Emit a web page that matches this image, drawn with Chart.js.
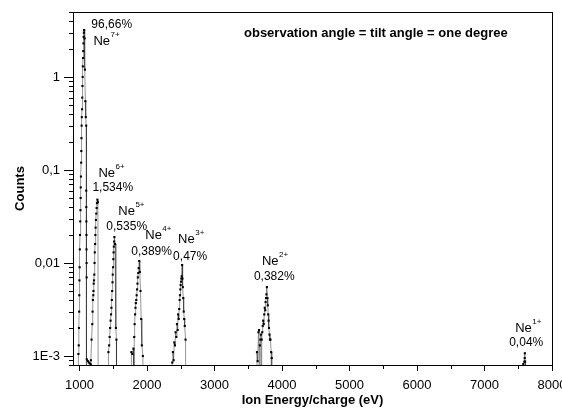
<!DOCTYPE html>
<html>
<head>
<meta charset="utf-8">
<script src="https://cdn.jsdelivr.net/npm/chart.js@4"></script>
<style>
  html, body { margin: 0; padding: 0; background: #fff; }
  canvas { display: block; }
</style>
</head>
<body>
<canvas id="chart" width="562" height="409"></canvas>
<script>
// energies (eV) and counts, one pair per charge state
// 1e-5 stands for "zero" (falls below the axis and is clipped)
const ne7Energy = [975, 985, 990, 993, 996, 998, 1000, 1003, 1006, 1009, 1012, 1015, 1018, 1020, 1023, 1026, 1028, 1030, 1033, 1036, 1039, 1042, 1045, 1048, 1051, 1054, 1057, 1060, 1063, 1066, 1070, 1076, 1082, 1088, 1094, 1100, 1101, 1102, 1103, 1104, 1105, 1106, 1107, 1108, 1110, 1125, 1140, 1155, 1170, 1185];
const ne7Counts = [1e-5, 0.00105, 0.0013, 0.002, 0.003, 0.0045, 0.0065, 0.009, 0.014, 0.02, 0.028, 0.037, 0.05, 0.065, 0.085, 0.12, 0.16, 0.22, 0.3, 0.37, 0.45, 0.6, 0.8, 1.0, 1.3, 1.6, 1.9, 2.3, 2.7, 3.0, 3.2, 2.6, 1.2, 0.55, 0.37, 0.3, 0.06, 0.04, 0.028, 0.02, 0.014, 0.01, 0.007, 1e-5, 0.00092, 0.00088, 0.00085, 0.00083, 0.00081, 1e-5];

const ne6Energy = [1160, 1170, 1180, 1190, 1195, 1200, 1205, 1208, 1212, 1216, 1220, 1224, 1228, 1232, 1236, 1240, 1245, 1250, 1255, 1260, 1266, 1274, 1280];
const ne6Counts = [1e-5, 0.0009, 0.0015, 0.0022, 0.003, 0.004, 0.0045, 0.005, 0.006, 0.0065, 0.0075, 0.01, 0.013, 0.016, 0.02, 0.024, 0.029, 0.034, 0.039, 0.044, 0.048, 0.045, 1e-5];

const ne5Energy = [1425, 1430, 1440, 1448, 1455, 1462, 1468, 1474, 1480, 1485, 1490, 1494, 1498, 1502, 1506, 1510, 1514, 1518, 1528, 1540, 1548, 1550];
const ne5Counts = [1e-5, 0.0011, 0.0013, 0.0016, 0.002, 0.0024, 0.0028, 0.0033, 0.004, 0.005, 0.0062, 0.0075, 0.009, 0.011, 0.013, 0.015, 0.017, 0.019, 0.016, 0.002, 0.0015, 1e-5];

const ne4Energy = [1765, 1770, 1785, 1800, 1806, 1812, 1818, 1824, 1830, 1836, 1842, 1848, 1854, 1860, 1866, 1872, 1878, 1886, 1895, 1905, 1915, 1925, 1940, 1945];
const ne4Counts = [1e-5, 0.0011, 0.00105, 0.0012, 1e-5, 0.0016, 0.0022, 0.0028, 0.0033, 0.0037, 0.004, 0.0045, 0.0052, 0.006, 0.007, 0.0078, 0.0088, 0.0105, 0.008, 0.005, 0.0025, 0.0013, 0.001, 1e-5];

const ne3Energy = [2370, 2375, 2385, 2395, 2405, 2415, 2425, 2435, 2445, 2455, 2462, 2470, 2478, 2485, 2490, 2495, 2500, 2505, 2510, 2515, 2521, 2526, 2532, 2538, 2545, 2552, 2560, 2572, 2580];
const ne3Counts = [1e-5, 0.00085, 0.0011, 0.0009, 0.0014, 0.0013, 0.0018, 0.0016, 0.0022, 0.0019, 0.0028, 0.0025, 0.0032, 0.004, 0.0045, 0.0052, 0.0058, 0.0063, 0.0068, 0.0072, 0.0095, 0.0068, 0.0055, 0.0042, 0.003, 0.0025, 0.0021, 0.0015, 1e-5];

const ne2Energy = [3625, 3630, 3640, 3652, 3660, 3665, 3672, 3680, 3688, 3695, 3700, 3708, 3715, 3722, 3730, 3738, 3745, 3752, 3758, 3765, 3770, 3777, 3785, 3790, 3796, 3802, 3808, 3815, 3822, 3830, 3840, 3848, 3852];
const ne2Counts = [1e-5, 0.0011, 0.00088, 0.0018, 0.0019, 1e-5, 0.0013, 0.0015, 0.0017, 1e-5, 0.0015, 0.0018, 0.0021, 0.0024, 0.0022, 0.0028, 0.0033, 0.0031, 0.0038, 0.0042, 0.0046, 0.0055, 0.0042, 0.0035, 0.0028, 0.0024, 0.002, 0.0017, 0.0015, 0.0015, 0.0011, 0.00095, 1e-5];

const ne1Energy = [7560, 7575, 7590, 7595, 7598, 7602, 7608];
const ne1Counts = [1e-5, 0.00082, 0.00087, 0.00095, 0.00107, 0.00087, 1e-5];

// peak labels: ion, charge, share, anchor (eV, counts) of ion name and of percentage
const ionNames = ["Ne", "Ne", "Ne", "Ne", "Ne", "Ne", "Ne"];
const ionCharges = ["7+", "6+", "5+", "4+", "3+", "2+", "1+"];
const ionShares = ["96,66%", "1,534%", "0,535%", "0,389%", "0,47%", "0,382%", "0,04%"];
const nameAt = [[1207, 2.21], [1281, 0.084], [1576, 0.0328], [1975, 0.0181], [2462, 0.0164], [3703, 0.0095], [7455, 0.00181]];
const shareAt = [[1177, 3.36], [1192, 0.0594], [1399, 0.0226], [1768, 0.0122], [2388, 0.0108], [3585, 0.00656], [7366, 0.00128]];

const xTicks = [1000, 1500, 2000, 2500, 3000, 3500, 4000, 4500, 5000, 5500, 6000, 6500, 7000, 7500, 8000];
const yMajor = [0.001, 0.01, 0.1, 1];
const yTickText = { 0.001: "1E-3", 0.01: "0,01", 0.1: "0,1", 1: "1" };

const noteText = "observation angle = tilt angle = one degree";

const FONT = "'Liberation Sans', Arial, sans-serif";

function toPoints(xs, ys) {
  return xs.map((x, i) => ({ x: x, y: ys[i] }));
}

const series = [
  [ne7Energy, ne7Counts],
  [ne6Energy, ne6Counts],
  [ne5Energy, ne5Counts],
  [ne4Energy, ne4Counts],
  [ne3Energy, ne3Counts],
  [ne2Energy, ne2Counts],
  [ne1Energy, ne1Counts],
];

const datasets = series.map((s) => ({
  data: toPoints(s[0], s[1]),
  borderColor: "rgba(0,0,0,0.6)",
  borderWidth: 0.7,
  pointStyle: "rect",
  pointRadius: 1.5,
  pointBackgroundColor: "#000",
  pointBorderWidth: 0,
  tension: 0,
}));

// frame, tick marks and text labels
const decorations = {
  id: "decorations",
  afterDraw(chart) {
    const ctx = chart.ctx;
    const xs = chart.scales.x;
    const ys = chart.scales.y;
    const left = xs.getPixelForValue(xs.min);
    const right = xs.getPixelForValue(xs.max);
    const top = ys.getPixelForValue(ys.max);
    const bottom = ys.getPixelForValue(ys.min);
    ctx.save();
    ctx.strokeStyle = "#000";
    ctx.lineWidth = 1;
    ctx.strokeRect(Math.round(left) + 0.5, Math.round(top) + 0.5,
      Math.round(right - left), Math.round(bottom - top));

    // y ticks
    ys.ticks.forEach((t) => {
      const py = Math.round(ys.getPixelForValue(t.value)) + 0.5;
      const major = yMajor.some((m) => Math.abs(m - t.value) / m < 1e-6);
      const len = major ? 9 : 4;
      ctx.beginPath();
      ctx.moveTo(left, py);
      ctx.lineTo(left - len, py);
      ctx.stroke();
    });
    // x ticks
    xs.ticks.forEach((t) => {
      const px = Math.round(xs.getPixelForValue(t.value)) + 0.5;
      const len = t.value % 1000 === 0 ? 6 : 4;
      ctx.beginPath();
      ctx.moveTo(px, bottom);
      ctx.lineTo(px, bottom + len);
      ctx.stroke();
    });

    // peak labels
    ctx.fillStyle = "#000";
    ctx.textBaseline = "alphabetic";
    ctx.textAlign = "left";
    for (let i = 0; i < ionNames.length; i++) {
      const nx = xs.getPixelForValue(nameAt[i][0]);
      const ny = ys.getPixelForValue(nameAt[i][1]);
      ctx.font = "13px " + FONT;
      ctx.fillText(ionNames[i], nx, ny);
      const w = ctx.measureText(ionNames[i]).width;
      ctx.font = "8px " + FONT;
      ctx.fillText(ionCharges[i], nx + w + 0.5, ny - 8);
      const sx = xs.getPixelForValue(shareAt[i][0]);
      const sy = ys.getPixelForValue(shareAt[i][1]);
      ctx.font = "12px " + FONT;
      ctx.fillText(ionShares[i], sx, sy);
    }

    ctx.font = "bold 13px " + FONT;
    ctx.fillText(noteText, left + 171, top + 25);
    ctx.restore();
  },
};

new Chart(document.getElementById("chart"), {
  type: "line",
  data: { datasets: datasets },
  plugins: [decorations],
  options: {
    responsive: false,
    animation: false,
    devicePixelRatio: 1,
    layout: { padding: { top: 12, right: 10, left: 0, bottom: 0 } },
    plugins: { legend: { display: false }, tooltip: { enabled: false } },
    scales: {
      x: {
        type: "linear",
        min: 905,
        max: 8000,
        afterBuildTicks(scale) {
          scale.ticks = xTicks.map((v) => ({ value: v }));
        },
        afterFit(scale) {
          scale.height = 44;
          scale.paddingLeft = 0;
          scale.paddingRight = 0;
        },
        grid: { display: false, drawTicks: false },
        border: { display: false },
        ticks: {
          autoSkip: false,
          maxRotation: 0,
          padding: 13,
          color: "#000",
          font: { family: FONT, size: 13 },
          callback: (v) => (v % 1000 === 0 ? String(v) : ""),
        },
        title: {
          display: true,
          text: "Ion Energy/charge (eV)",
          color: "#000",
          font: { family: FONT, size: 13, weight: "bold" },
          padding: { top: 0, bottom: 1 },
        },
      },
      y: {
        type: "logarithmic",
        min: 0.0008,
        max: 5,
        afterBuildTicks(scale) {
          const list = [];
          for (let e = -4; e <= 0; e++) {
            for (let m = 1; m <= 9; m++) {
              const v = m * Math.pow(10, e);
              if (v >= 0.0008 - 1e-12 && v <= 5 + 1e-9) list.push({ value: v });
            }
          }
          scale.ticks = list;
        },
        afterFit(scale) {
          scale.width = 73;
          scale.paddingTop = 0;
          scale.paddingBottom = 0;
        },
        grid: { display: false, drawTicks: false },
        border: { display: false },
        ticks: {
          autoSkip: false,
          padding: 13,
          color: "#000",
          font: { family: FONT, size: 13 },
          callback: function (v) {
            for (const m of yMajor) {
              if (Math.abs(m - v) / m < 1e-6) return yTickText[m];
            }
            return "";
          },
        },
        title: {
          display: true,
          text: "Counts",
          color: "#000",
          font: { family: FONT, size: 13, weight: "bold" },
          padding: { top: 13, bottom: 0 },
        },
      },
    },
  },
});
</script>
</body>
</html>
